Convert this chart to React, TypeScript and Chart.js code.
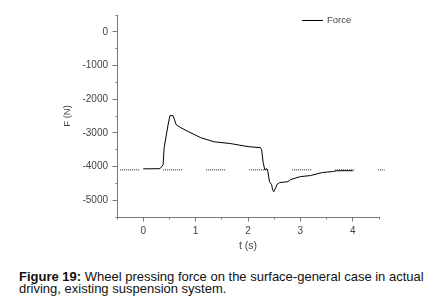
import React, { useEffect, useRef } from "react";
import { Chart, registerables } from "chart.js";

Chart.register(...registerables);

// Force curve: time (s) and wheel pressing force (N)
const timeS = [0, 0.32, 0.38, 0.40, 0.475, 0.51, 0.57, 0.63, 0.72, 0.87, 1.10, 1.35, 1.67, 2.0, 2.24, 2.26, 2.29, 2.32, 2.36, 2.38, 2.41, 2.45, 2.47, 2.49, 2.53, 2.55, 2.60, 2.76, 2.81, 3.0, 3.19, 3.42, 3.61, 3.71, 4.0];
const forceN = [-4070, -4065, -3950, -3440, -2760, -2490, -2490, -2760, -2850, -2970, -3145, -3265, -3320, -3410, -3440, -3500, -3890, -4095, -4065, -4155, -4450, -4540, -4690, -4750, -4630, -4540, -4480, -4450, -4390, -4300, -4270, -4180, -4150, -4125, -4125];

// Dotted static-load reference line
const refT = [-0.44, 4.61];
const refF = [-4100, -4100];

// Axis ranges / steps
const xRange = [-0.5, 4.5];
const xStep = 0.5;
const xLabelStep = 1;
const yRange = [-5500, 500];
const yStep = 500;
const yLabelStep = 1000;

const legendLabel = "Force";
const xTitle = "t (s)";
const yTitle = "F (N)";
const captionBold = "Figure 19:";
const captionLine1 = " Wheel pressing force on the surface-general case in actual";
const captionLine2 = "driving, existing suspension system.";

const AXIS_COLOR = "#7a7a7a";
const TEXT_COLOR = "#444";
const FONT = "'Liberation Sans', Arial, sans-serif";

const isMultiple = (v: number, step: number) => Math.abs(v / step - Math.round(v / step)) < 1e-6;
const align = (p: number) => Math.round(p - 0.5) + 0.5;

const tickMarks = {
  id: "tickMarks",
  afterDraw(chart: any) {
    const ctx = chart.ctx;
    const xs = chart.scales.x;
    const ys = chart.scales.y;
    ctx.save();
    ctx.strokeStyle = AXIS_COLOR;
    ctx.lineWidth = 1;
    ctx.beginPath();
    const yx = align(ys.right);
    ys.ticks.forEach((t: any) => {
      const py = align(ys.getPixelForValue(t.value));
      const len = isMultiple(t.value, yLabelStep) ? 5 : 2;
      ctx.moveTo(yx - len, py);
      ctx.lineTo(yx, py);
    });
    const xy = align(xs.top);
    xs.ticks.forEach((t: any) => {
      const px = align(xs.getPixelForValue(t.value));
      const len = isMultiple(t.value, xLabelStep) ? 4 : 2;
      ctx.moveTo(px, xy);
      ctx.lineTo(px, xy + len);
    });
    ctx.stroke();
    ctx.restore();
  },
};

function ForceChart() {
  const ref = useRef<HTMLCanvasElement | null>(null);
  useEffect(() => {
    if (!ref.current) return;
    const dots: number[] = [];
    for (let i = 0; i < 9; i++) dots.push(1, 1);
    dots.push(1, 24);
    const chart = new Chart(ref.current, {
      type: "line",
      data: {
        datasets: [
          {
            label: legendLabel,
            data: timeS.map((t, i) => ({ x: t, y: forceN[i] })),
            borderColor: "#000",
            borderWidth: 1,
            pointRadius: 0,
            tension: 0,
            fill: false,
            order: 0,
          },
          {
            label: "reference",
            data: refT.map((t, i) => ({ x: t, y: refF[i] })),
            borderColor: "#222",
            borderWidth: 1,
            borderDash: dots,
            pointRadius: 0,
            fill: false,
            clip: false,
            order: 1,
          } as any,
        ],
      },
      options: {
        animation: false,
        responsive: false,
        events: [],
        layout: { padding: { top: 15, right: 57, left: 0, bottom: 0 } },
        plugins: { legend: { display: false }, tooltip: { enabled: false } },
        scales: {
          x: {
            type: "linear",
            min: xRange[0],
            max: xRange[1],
            grid: { display: false, drawTicks: true, tickLength: 4 },
            border: { display: true, color: AXIS_COLOR, width: 1 },
            ticks: {
              stepSize: xStep,
              autoSkip: false,
              maxRotation: 0,
              padding: 4,
              color: TEXT_COLOR,
              font: { family: FONT, size: 10 },
              callback: (v: any) => (isMultiple(Number(v), xLabelStep) ? String(Math.round(Number(v))) : ""),
            },
            title: {
              display: true,
              text: xTitle,
              color: TEXT_COLOR,
              font: { family: FONT, size: 10.5 },
              padding: { top: 0, bottom: 6 },
            },
            afterFit: (s: any) => {
              s.height = 41;
            },
          },
          y: {
            type: "linear",
            min: yRange[0],
            max: yRange[1],
            grid: { display: false, drawTicks: true, tickLength: 5 },
            border: { display: true, color: AXIS_COLOR, width: 1 },
            ticks: {
              stepSize: yStep,
              autoSkip: false,
              padding: 4,
              color: TEXT_COLOR,
              font: { family: FONT, size: 10 },
              callback: (v: any) => (isMultiple(Number(v), yLabelStep) ? String(Math.round(Number(v))) : ""),
            },
            title: {
              display: true,
              text: yTitle,
              color: TEXT_COLOR,
              font: { family: FONT, size: 9.5 },
              padding: { top: 62, bottom: 0 },
            },
            afterFit: (s: any) => {
              s.width = 117;
            },
          },
        },
      },
      plugins: [tickMarks],
    });
    return () => chart.destroy();
  }, []);
  return (
    <canvas
      ref={ref}
      width={436}
      height={258}
      style={{ position: "absolute", left: 0, top: 0, width: 436, height: 258 }}
    />
  );
}

export default function App() {
  return (
    <div
      style={{
        position: "fixed",
        left: 0,
        top: 0,
        width: 436,
        height: 300,
        background: "#fff",
        overflow: "hidden",
      }}
    >
      <ForceChart />
      <div
        style={{
          position: "absolute",
          left: 302,
          top: 20,
          width: 21,
          height: 1,
          background: "#000",
        }}
      />
      <div
        style={{
          position: "absolute",
          left: 327,
          top: 14,
          fontFamily: FONT,
          fontSize: 9.5,
          lineHeight: "12px",
          color: TEXT_COLOR,
          whiteSpace: "nowrap",
        }}
      >
        {legendLabel}
      </div>
      <div
        style={{
          position: "absolute",
          left: 19,
          top: 271,
          fontFamily: FONT,
          fontSize: 13,
          lineHeight: "12px",
          color: "#111",
          whiteSpace: "nowrap",
        }}
      >
        <b>{captionBold}</b>
        {captionLine1}
        <br />
        {captionLine2}
      </div>
    </div>
  );
}
